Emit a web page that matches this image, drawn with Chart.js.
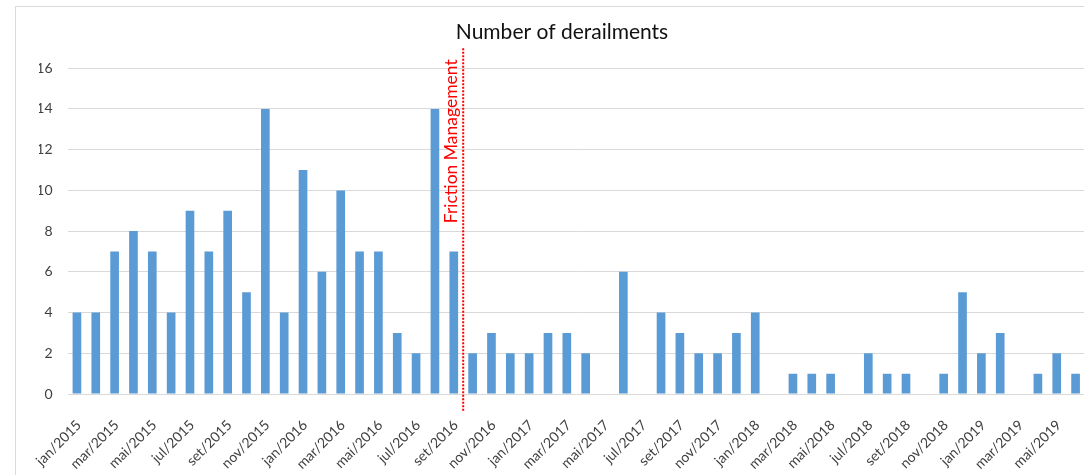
<!DOCTYPE html>
<html>
<head>
<meta charset="utf-8">
<script src="https://cdn.jsdelivr.net/npm/chart.js@4.4.0/dist/chart.umd.min.js"></script>
<style>
  html, body { margin: 0; padding: 0; background: #fff; overflow: hidden; }
  #frame {
    position: absolute; left: 15px; top: 6px;
    width: 1092px; height: 470px;
    border-left: 1px solid #d9d9d9; border-top: 1px solid #d9d9d9;
  }
</style>
</head>
<body>
<div id="frame"><canvas id="barchart" width="1092" height="470"></canvas></div>
<script>
// months jan/2015 .. jun/2019
var months = ['jan', 'fev', 'mar', 'abr', 'mai', 'jun', 'jul', 'ago', 'set', 'out', 'nov', 'dez'];
var years = [2015, 2016, 2017, 2018, 2019];
var labels = [];
years.forEach(function (y) {
  months.forEach(function (m, i) {
    if (y === 2019 && i > 5) return;
    labels.push(m + '/' + y);
  });
});

var derailments2015 = [4, 4, 7, 8, 7, 4, 9, 7, 9, 5, 14, 4];
var derailments2016 = [11, 6, 10, 7, 7, 3, 2, 14, 7, 2, 3, 2];
var derailments2017 = [2, 3, 3, 2, 0, 6, 0, 4, 3, 2, 2, 3];
var derailments2018 = [4, 0, 1, 1, 1, 0, 2, 1, 1, 0, 1, 5];
var derailments2019 = [2, 3, 0, 1, 2, 1];
var derailments = [].concat(derailments2015, derailments2016, derailments2017, derailments2018, derailments2019);

var markerLabel = 'Friction Management';
var markerAfter = 'set/2016';

var FONT = 'Lato, "Open Sans", sans-serif';

var frictionLine = {
  id: 'frictionLine',
  afterDatasetsDraw: function (chart) {
    var ctx = chart.ctx, x = chart.scales.x, area = chart.chartArea;
    var i = labels.indexOf(markerAfter);
    var px = (x.getPixelForValue(i) + x.getPixelForValue(i + 1)) / 2;
    ctx.save();
    ctx.strokeStyle = '#ff0000';
    ctx.lineWidth = 2;
    ctx.setLineDash([2, 1.5]);
    ctx.beginPath();
    ctx.moveTo(px, area.top - 20);
    ctx.lineTo(px, area.bottom + 18);
    ctx.stroke();
    ctx.translate(px - 6, area.top + 155);
    ctx.rotate(-Math.PI / 2);
    ctx.fillStyle = '#ff0000';
    ctx.font = '17.5px ' + FONT;
    ctx.textAlign = 'left';
    ctx.textBaseline = 'alphabetic';
    ctx.fillText(markerLabel, 0, 0);
    ctx.restore();
  }
};

new Chart(document.getElementById('barchart'), {
  type: 'bar',
  data: {
    labels: labels,
    datasets: [{
      data: derailments,
      backgroundColor: '#5B9BD5',
      barPercentage: 0.46,
      categoryPercentage: 1.0
    }]
  },
  options: {
    responsive: false,
    animation: false,
    layout: { padding: { left: 23, right: 23, top: 0, bottom: 0 } },
    plugins: {
      legend: { display: false },
      tooltip: { enabled: false },
      title: {
        display: true,
        text: 'Number of derailments',
        color: '#111111',
        font: { family: FONT, size: 21, weight: 'normal' },
        padding: { top: 13, bottom: 23 }
      }
    },
    scales: {
      x: {
        grid: { display: false },
        border: { display: false },
        ticks: {
          autoSkip: false,
          maxRotation: 45,
          minRotation: 45,
          labelOffset: 2,
          padding: 15,
          color: '#404040',
          font: { family: FONT, size: 14 },
          callback: function (v, i) { return i % 2 === 0 ? labels[i] : ''; }
        },
        afterFit: function (s) { s.height = 83; }
      },
      y: {
        min: 0,
        max: 16,
        ticks: {
          stepSize: 2,
          padding: 15,
          color: '#404040',
          font: { family: FONT, size: 14 }
        },
        grid: { color: '#d9d9d9', drawTicks: false },
        border: { display: false },
        afterFit: function (s) { s.width = 28.5; }
      }
    }
  },
  plugins: [frictionLine]
});
</script>
</body>
</html>
